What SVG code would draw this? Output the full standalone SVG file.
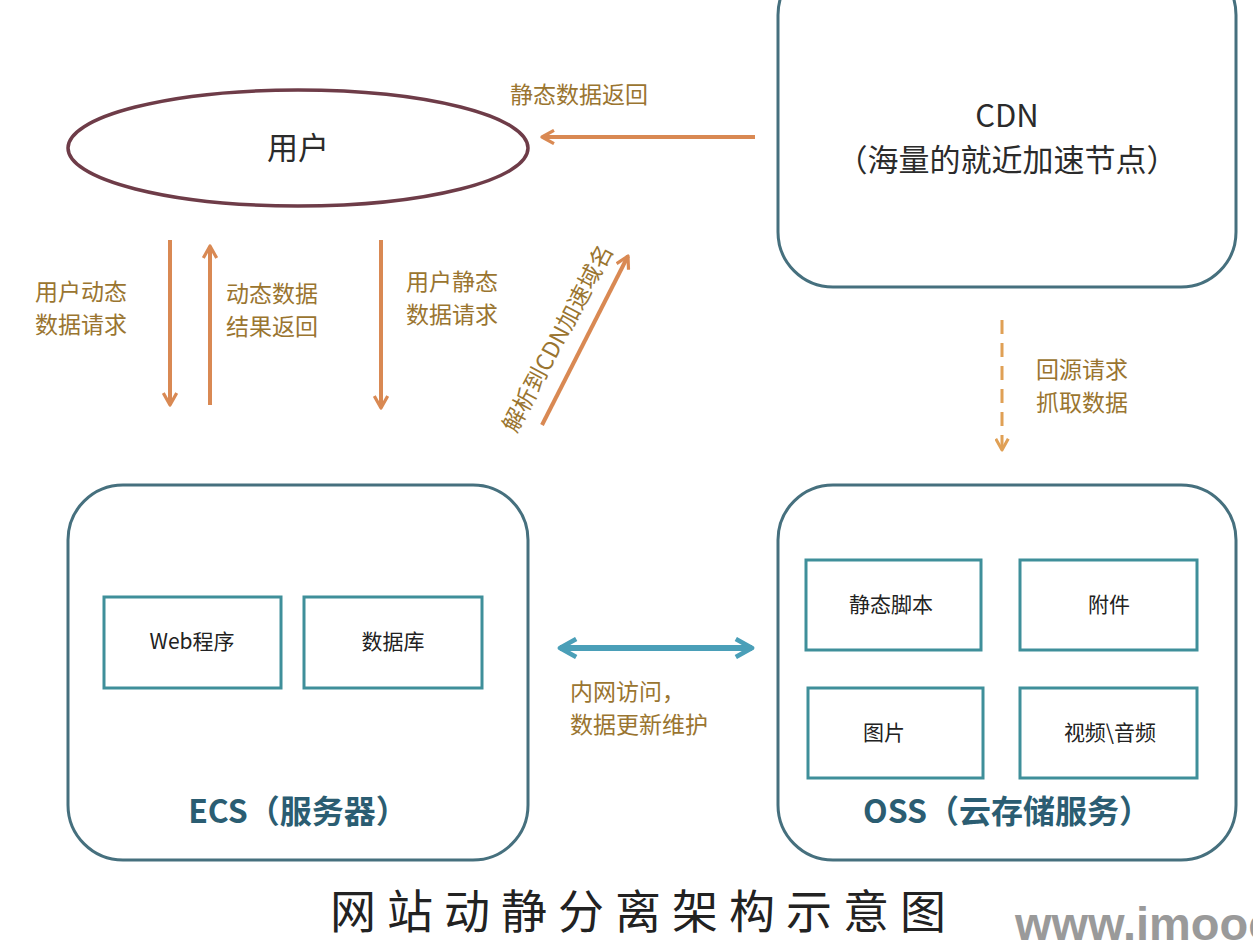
<svg xmlns="http://www.w3.org/2000/svg" width="1253" height="945" viewBox="0 0 1253 945">
<defs>
<style>
.box{fill:#fff;stroke:#46707e;stroke-width:3}
.inner{fill:#fff;stroke:#3f8f9a;stroke-width:3}
.t{font-family:"Noto Sans CJK SC","Noto Sans",sans-serif;fill:#222}
.lbl{font-family:"Noto Sans CJK SC","Noto Sans",sans-serif;fill:#9a7530;font-size:23px}
.big{font-size:31px;fill:#2b2b2b}
.in{font-size:21px;fill:#222;text-anchor:middle}
.bold{font-size:32px;font-weight:bold;fill:#2b5d72;text-anchor:middle}
.arr{stroke:#d98953;stroke-width:4;fill:none}
</style>
<marker id="ah" viewBox="0 0 12 12" refX="10" refY="6" markerWidth="4" markerHeight="4" orient="auto" markerUnits="strokeWidth">
<path d="M1,1 L10,6 L1,11" fill="none" stroke="#d98953" stroke-width="2.4" stroke-linejoin="round"/>
</marker>
<marker id="ahd" viewBox="0 0 12 12" refX="10" refY="6" markerWidth="5" markerHeight="5" orient="auto" markerUnits="strokeWidth">
<path d="M1,1 L10,6 L1,11" fill="none" stroke="#e0a055" stroke-width="2.4" stroke-linejoin="round"/>
</marker>
<marker id="ab" viewBox="0 0 12 12" refX="10" refY="6" markerWidth="3.6" markerHeight="3.6" orient="auto-start-reverse" markerUnits="strokeWidth">
<path d="M1,1 L10,6 L1,11" fill="none" stroke="#4a9fb8" stroke-width="2.6" stroke-linejoin="round"/>
</marker>
</defs>
<rect width="1253" height="945" fill="#fff"/>

<g id="user">
<ellipse cx="298" cy="148" rx="230" ry="58" fill="#fff" stroke="#6e3c48" stroke-width="3.5"/>
<text class="t big" x="298" y="159" text-anchor="middle">用户</text>
</g>

<g id="cdn">
<rect class="box" x="778" y="-40" width="458" height="327" rx="55"/>
<text class="t big" x="1007" y="127" text-anchor="middle">CDN</text>
<text class="t big" x="1007" y="171" text-anchor="middle">（海量的就近加速节点）</text>
</g>

<g id="ecs">
<rect class="box" x="68" y="485" width="460" height="375" rx="55"/>
<g id="web">
<rect class="inner" x="104" y="597" width="177" height="91"/>
<text class="t in" x="192" y="649">Web程序</text>
</g>
<g id="db">
<rect class="inner" x="304" y="597" width="178" height="91"/>
<text class="t in" x="393" y="649">数据库</text>
</g>
<text class="t bold" x="298" y="823">ECS（服务器）</text>
</g>

<g id="oss">
<rect class="box" x="778" y="485" width="458" height="375" rx="55"/>
<g id="script">
<rect class="inner" x="806" y="560" width="175" height="90"/>
<text class="t in" x="891" y="612">静态脚本</text>
</g>
<g id="attach">
<rect class="inner" x="1020" y="560" width="177" height="90"/>
<text class="t in" x="1109" y="612">附件</text>
</g>
<g id="image">
<rect class="inner" x="808" y="688" width="175" height="90"/>
<text class="t in" x="884" y="740">图片</text>
</g>
<g id="media">
<rect class="inner" x="1020" y="688" width="177" height="90"/>
<text class="t in" x="1110" y="740">视频\音频</text>
</g>
<text class="t bold" x="1007" y="823">OSS（云存储服务）</text>
</g>

<g id="connectors">
<line class="arr" x1="755" y1="137" x2="542" y2="137" marker-end="url(#ah)"/>
<line class="arr" x1="170" y1="240" x2="170" y2="405" marker-end="url(#ah)"/>
<line class="arr" x1="210" y1="405" x2="210" y2="246" marker-end="url(#ah)"/>
<line class="arr" x1="381" y1="240" x2="381" y2="408" marker-end="url(#ah)"/>
<line class="arr" x1="542" y1="425" x2="628" y2="256" marker-end="url(#ah)"/>
<line x1="1002" y1="320" x2="1002" y2="450" stroke="#e0a055" stroke-width="3" stroke-dasharray="14 9" marker-end="url(#ahd)"/>
<line x1="560" y1="648" x2="752" y2="648" stroke="#4a9fb8" stroke-width="6" marker-start="url(#ab)" marker-end="url(#ab)"/>
<text class="lbl" x="510" y="103">静态数据返回</text>
<text class="lbl" x="35" y="300">用户动态</text>
<text class="lbl" x="35" y="333">数据请求</text>
<text class="lbl" x="226" y="302">动态数据</text>
<text class="lbl" x="226" y="335">结果返回</text>
<text class="lbl" x="406" y="290">用户静态</text>
<text class="lbl" x="406" y="323">数据请求</text>
<text class="lbl" transform="translate(516,434) rotate(-62)" x="0" y="0" font-size="24">解析到CDN加速域名</text>
<text class="lbl" x="1036" y="378">回源请求</text>
<text class="lbl" x="1036" y="411">抓取数据</text>
<text class="lbl" x="570" y="700">内网访问，</text>
<text class="lbl" x="570" y="733">数据更新维护</text>
</g>

<text class="t" x="330" y="928" font-size="46" letter-spacing="11" fill="#1e1e1e">网站动静分离架构示意图</text>
<text x="1015" y="940" font-family="Liberation Sans,Arial,sans-serif" font-weight="bold" font-size="47" fill="#9a9a9a">www.imooc</text>
</svg>
